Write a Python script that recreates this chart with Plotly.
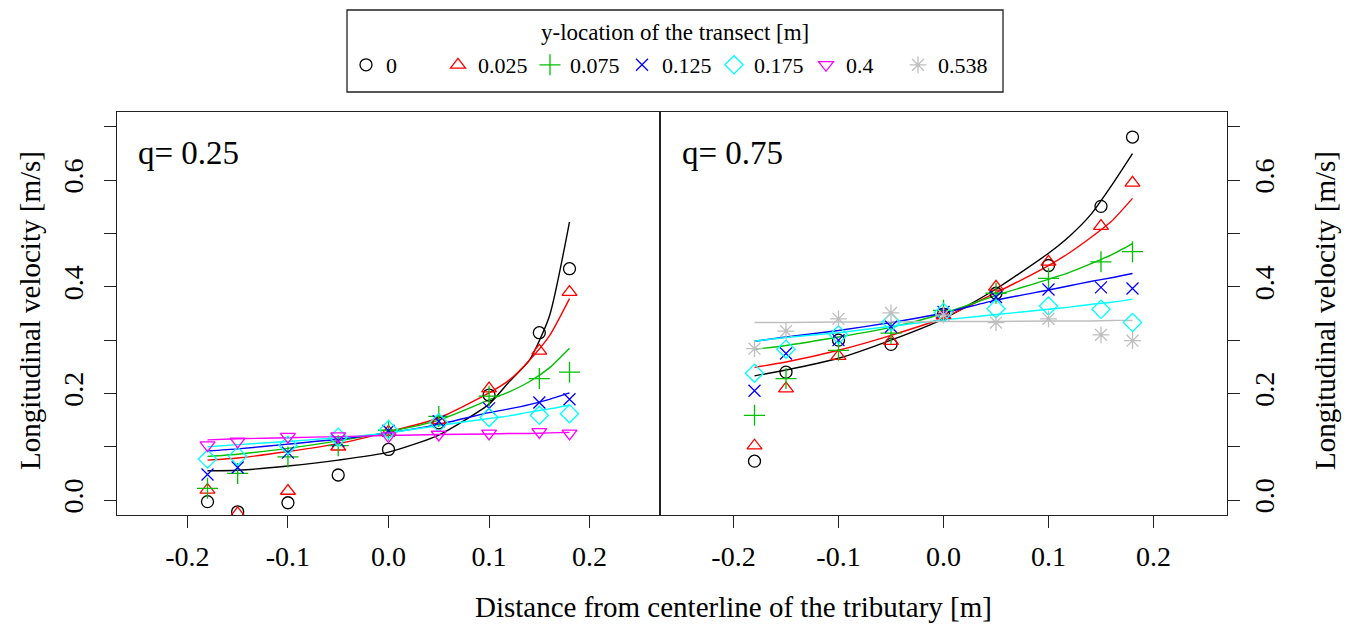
import plotly.graph_objects as go

# ---------------- data ----------------
x_obs = [-0.18, -0.15, -0.10, -0.05, 0.0, 0.05, 0.10, 0.15, 0.18]
x_fit = [-0.18, -0.15, -0.10, -0.05, 0.0, 0.05, 0.10, 0.12, 0.14, 0.16, 0.18]

transect_labels = ["0", "0.025", "0.075", "0.125", "0.175", "0.4", "0.538"]
colors = ["#000000", "#FF0000", "#00C000", "#0000FF", "#00FFFF", "#FF00FF", "#BEBEBE"]
symbols = ["circle-open", "triangle-up-open", "cross-thin-open", "x-thin-open",
           "diamond-open", "triangle-down-open", "asterisk-open"]
marker_sizes = [12, 13, 15, 12, 14, 13, 14]

# q = 0.25 (left panel) observations
q25_obs_0 = [-0.003, -0.022, -0.005, 0.047, 0.095, 0.145, 0.197, 0.314, 0.434]
q25_obs_025 = [0.019, -0.025, 0.017, 0.100, 0.128, 0.150, 0.209, 0.280, 0.390]
q25_obs_075 = [0.022, 0.050, 0.081, 0.102, 0.131, 0.157, 0.195, 0.228, 0.240]
q25_obs_125 = [0.048, 0.061, 0.089, 0.111, 0.130, 0.148, 0.172, 0.183, 0.189]
q25_obs_175 = [0.077, 0.082, 0.103, 0.118, 0.132, 0.145, 0.155, 0.159, 0.162]
q25_obs_4 = [0.103, 0.110, 0.119, 0.120, 0.120, 0.123, 0.125, 0.128, 0.125]

# q = 0.25 fitted curves
q25_fit_0 = [0.055, 0.056, 0.064, 0.075, 0.090, 0.122, 0.180, 0.222, 0.262, 0.345, 0.522]
q25_fit_025 = [0.075, 0.079, 0.091, 0.106, 0.128, 0.154, 0.201, 0.225, 0.262, 0.308, 0.378]
q25_fit_075 = [0.082, 0.086, 0.097, 0.111, 0.128, 0.150, 0.188, 0.203, 0.222, 0.248, 0.285]
q25_fit_125 = [0.092, 0.096, 0.105, 0.114, 0.126, 0.142, 0.164, 0.171, 0.179, 0.189, 0.201]
q25_fit_175 = [0.100, 0.104, 0.110, 0.117, 0.126, 0.140, 0.153, 0.158, 0.165, 0.171, 0.178]
q25_fit_4 = [0.113, 0.115, 0.117, 0.119, 0.121, 0.123, 0.124, 0.125, 0.125, 0.126, 0.127]

# q = 0.75 (right panel) observations
q75_obs_0 = [0.073, 0.240, 0.300, 0.292, 0.349, 0.388, 0.440, 0.551, 0.681]
q75_obs_025 = [0.102, 0.209, 0.270, 0.298, 0.347, 0.400, 0.447, 0.514, 0.595]
q75_obs_075 = [0.159, 0.228, 0.281, 0.313, 0.356, 0.388, 0.416, 0.447, 0.466]
q75_obs_125 = [0.205, 0.275, 0.300, 0.325, 0.353, 0.381, 0.395, 0.399, 0.397]
q75_obs_175 = [0.238, 0.283, 0.310, 0.334, 0.352, 0.359, 0.364, 0.358, 0.333]
q75_obs_538 = [0.284, 0.317, 0.340, 0.351, 0.347, 0.333, 0.340, 0.310, 0.299]

# q = 0.75 fitted curves
q75_fit_0 = [0.233, 0.244, 0.266, 0.300, 0.340, 0.396, 0.463, 0.495, 0.535, 0.590, 0.650]
q75_fit_025 = [0.249, 0.259, 0.281, 0.309, 0.342, 0.389, 0.440, 0.464, 0.492, 0.523, 0.566]
q75_fit_075 = [0.283, 0.290, 0.306, 0.324, 0.350, 0.384, 0.414, 0.427, 0.443, 0.460, 0.481]
q75_fit_125 = [0.298, 0.306, 0.318, 0.333, 0.351, 0.375, 0.394, 0.402, 0.410, 0.417, 0.425]
q75_fit_175 = [0.298, 0.305, 0.314, 0.326, 0.338, 0.348, 0.358, 0.362, 0.367, 0.371, 0.377]
q75_fit_538 = [0.333, 0.333, 0.334, 0.334, 0.335, 0.335, 0.336, 0.336, 0.336, 0.337, 0.337]

y_tick_vals = [0.0, 0.1, 0.2, 0.3, 0.4, 0.5, 0.6, 0.7]
y_tick_text = ["0.0", "", "0.2", "", "0.4", "", "0.6", ""]
x_tick_vals = [-0.2, -0.1, 0.0, 0.1, 0.2]
x_tick_text = ["-0.2", "-0.1", "0.0", "0.1", "0.2"]

panel_labels = ["q= 0.25", "q= 0.75"]
x_title = "Distance from centerline of the tributary [m]"
y_title = "Longitudinal velocity [m/s]"
legend_title = "y-location of the transect [m]"

# ---------------- figure ----------------
FONT = "Liberation Serif, Times New Roman, serif"
W, H = 1354, 626


def fx(p):
    return p / W


def fy(p):
    return (H - p) / H


fig = go.Figure()

left_obs = [q25_obs_0, q25_obs_025, q25_obs_075, q25_obs_125, q25_obs_175, q25_obs_4, None]
left_fit = [q25_fit_0, q25_fit_025, q25_fit_075, q25_fit_125, q25_fit_175, q25_fit_4, None]
right_obs = [q75_obs_0, q75_obs_025, q75_obs_075, q75_obs_125, q75_obs_175, None, q75_obs_538]
right_fit = [q75_fit_0, q75_fit_025, q75_fit_075, q75_fit_125, q75_fit_175, None, q75_fit_538]

shown = set()
for panel, (obs_list, fit_list) in enumerate([(left_obs, left_fit), (right_obs, right_fit)]):
    xa = "x" if panel == 0 else "x2"
    ya = "y" if panel == 0 else "y2"
    for i in range(len(transect_labels)):
        if fit_list[i] is not None:
            fig.add_trace(go.Scatter(
                x=x_fit, y=fit_list[i], mode="lines", xaxis=xa, yaxis=ya,
                line=dict(color=colors[i], width=1.4, shape="spline", smoothing=0.6),
                showlegend=False, hoverinfo="skip"))
    for i in range(len(transect_labels)):
        if obs_list[i] is not None:
            fig.add_trace(go.Scatter(
                x=x_obs, y=obs_list[i], mode="markers", xaxis=xa, yaxis=ya,
                name=transect_labels[i], legendgroup=transect_labels[i], legendrank=i + 1,
                showlegend=transect_labels[i] not in shown,
                marker=dict(symbol=symbols[i], size=marker_sizes[i], color=colors[i],
                            line=dict(color=colors[i], width=1.3))))
            shown.add(transect_labels[i])

# panel geometry (pixels)
L0, L1, R1 = 117, 660, 1227
TOP, BOT = 112, 515
dom_y = [fy(BOT), fy(TOP)]

axis_common = dict(showline=True, linecolor="#222222", linewidth=1.3, mirror=True,
                   showgrid=False, zeroline=False, ticks="outside", ticklen=12,
                   tickwidth=1.2, tickcolor="#222222",
                   tickfont=dict(family=FONT, size=28, color="#000000"))

fig.update_layout(
    width=W, height=H,
    margin=dict(l=0, r=0, t=0, b=0),
    paper_bgcolor="white", plot_bgcolor="white",
    xaxis=dict(domain=[fx(L0), fx(L1)], range=[-0.27, 0.27], anchor="y",
               tickvals=x_tick_vals, ticktext=x_tick_text, ticklabelstandoff=4,
               **axis_common),
    xaxis2=dict(domain=[fx(L1), fx(R1)], range=[-0.27, 0.27], anchor="y2",
                tickvals=x_tick_vals, ticktext=x_tick_text, ticklabelstandoff=4,
                **axis_common),
    yaxis=dict(domain=dom_y, range=[-0.028, 0.728], anchor="x", side="left",
               tickvals=y_tick_vals, ticktext=y_tick_text, tickangle=-90,
               ticklabelstandoff=10, **axis_common),
    yaxis2=dict(domain=dom_y, range=[-0.028, 0.728], anchor="x2", side="right",
                tickvals=y_tick_vals, ticktext=y_tick_text, tickangle=-90, **axis_common),
    legend=dict(orientation="h", x=fx(346), xanchor="left", y=fy(65), yanchor="middle",
                borderwidth=0, bgcolor="rgba(0,0,0,0)",
                font=dict(family=FONT, size=22, color="#000000"),
                entrywidth=47, entrywidthmode="pixels", itemwidth=30,
                traceorder="normal"),
    showlegend=True,
)

# legend frame
fig.add_shape(type="rect", xref="paper", yref="paper",
              x0=fx(347), x1=fx(1003), y0=fy(92), y1=fy(10),
              line=dict(color="#222222", width=1.3), fillcolor="rgba(0,0,0,0)", layer="above")

annotations = [
    dict(text=legend_title, x=fx(675), y=fy(32), xref="paper", yref="paper",
         xanchor="center", yanchor="middle", showarrow=False,
         font=dict(family=FONT, size=23, color="#000000")),
    dict(text=panel_labels[0], x=fx(136), y=fy(153), xref="paper", yref="paper",
         xanchor="left", yanchor="middle", showarrow=False,
         font=dict(family=FONT, size=33, color="#000000")),
    dict(text=panel_labels[1], x=fx(680), y=fy(153), xref="paper", yref="paper",
         xanchor="left", yanchor="middle", showarrow=False,
         font=dict(family=FONT, size=33, color="#000000")),
    dict(text=x_title, x=fx(733), y=fy(607), xref="paper", yref="paper",
         xanchor="center", yanchor="middle", showarrow=False,
         font=dict(family=FONT, size=29, color="#000000")),
    dict(text=y_title, x=fx(30), y=fy(311), xref="paper", yref="paper",
         xanchor="center", yanchor="middle", showarrow=False, textangle=-90,
         font=dict(family=FONT, size=29, color="#000000")),
    dict(text=y_title, x=fx(1325), y=fy(311), xref="paper", yref="paper",
         xanchor="center", yanchor="middle", showarrow=False, textangle=-90,
         font=dict(family=FONT, size=29, color="#000000")),
]
fig.update_layout(annotations=annotations)

fig.write_html("out.html", config={"displayModeBar": False},
               post_script="document.body.style.margin='0px';")
